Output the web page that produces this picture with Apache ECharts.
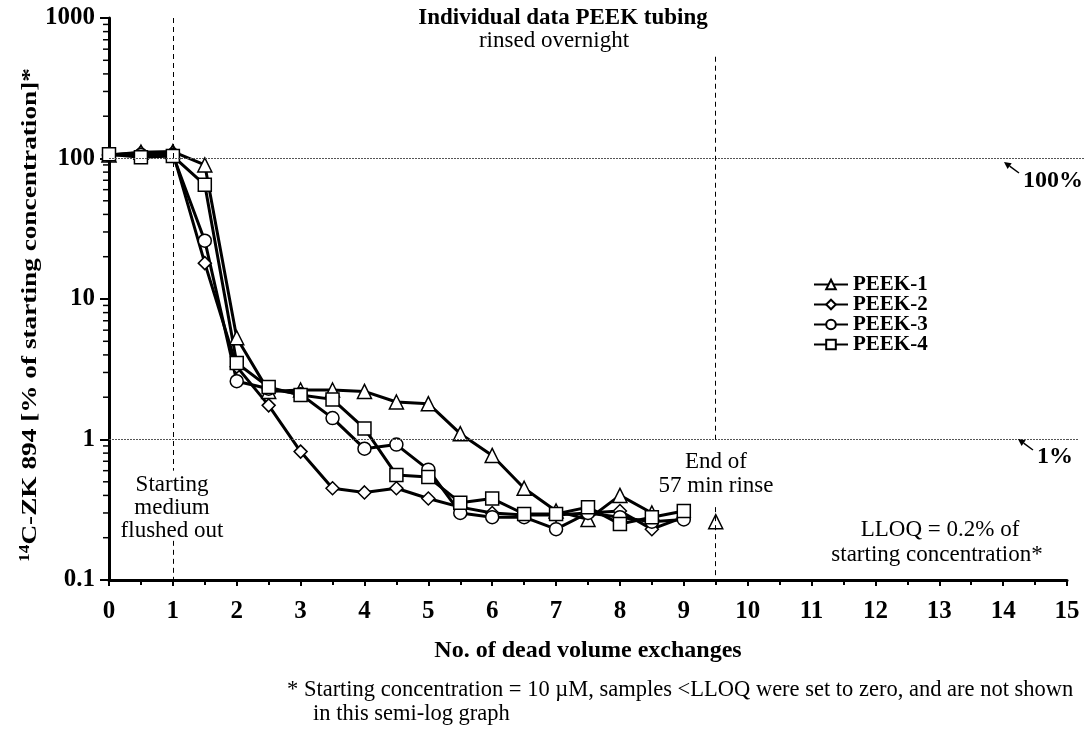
<!DOCTYPE html>
<html>
<head>
<meta charset="utf-8">
<script src="https://cdn.jsdelivr.net/npm/echarts@6/dist/echarts.min.js"></script>
<style>html,body{margin:0;padding:0;background:#fff}#c{width:1089px;height:737px}</style>
</head>
<body>
<div id="c"></div>
<script>
// ---- data ----
const xs = [0,0.5,1,1.5,2,2.5,3,3.5,4,4.5,5,5.5,6,6.5,7,7.5,8,8.5,9,9.5];
const peek1 = [106,111,112,90,5.3,2.2,2.25,2.25,2.2,1.85,1.8,1.1,0.77,0.45,0.31,0.27,0.40,0.30,null,0.26];
const peek2 = [106,110,110,18,3.3,1.75,0.82,0.45,0.42,0.45,0.38,0.33,0.30,0.29,0.29,0.30,0.31,0.23,0.28,null];
const peek3 = [106,106,106,26,2.6,2.3,2.1,1.42,0.86,0.92,0.61,0.30,0.28,0.28,0.23,0.30,0.28,0.26,0.27,null];
const peek4 = [107,102,104,65,3.5,2.36,2.07,1.93,1.2,0.56,0.54,0.355,0.38,0.295,0.295,0.33,0.25,0.28,0.31,null];
const seriesNames = ['PEEK-1','PEEK-2','PEEK-3','PEEK-4'];
const seriesSymbols = ['triangle','diamond','circle','rect'];
const xTicks = [0,1,2,3,4,5,6,7,8,9,10,11,12,13,14,15];
const yTicks = [0.1,1,10,100,1000];
const yMinorTicks = [0.2,0.3,0.4,0.5,0.6,0.7,0.8,0.9,2,3,4,5,6,7,8,9,20,30,40,50,60,70,80,90,200,300,400,500,600,700,800,900];
// reference lines: [x1,y1,x2,y2]
const refDotted = [[0,100,15,100],[0,1,15,1]];
const refDotEnds = [1085,1078];
const refDashed = [[1,1000,1,0.6],[1,0.19,1,0.1],[9.5,530,9.5,0.97],[9.5,0.33,9.5,0.1]];

const FONT = '"Liberation Serif","Times New Roman",serif';
const values = [peek1,peek2,peek3,peek4];

const chart = echarts.init(document.getElementById('c'), null, {renderer:'canvas'});

const lineSeries = seriesNames.map((n,i)=>({
  name:n, type:'line', z:3,
  data: xs.map((x,j)=>[x, values[i][j]]),
  symbol: seriesSymbols[i],
  symbolSize: seriesSymbols[i]==='diamond'?13:(seriesSymbols[i]==='triangle'?14:13),
  showSymbol:true,
  connectNulls:false,
  lineStyle:{color:'#000',width:3},
  itemStyle:{color:'#fff',borderColor:'#000',borderWidth:1.5},
  emphasis:{disabled:true},
  animation:false
}));

const refSeries = {
  name:'ref', type:'line', data:[], z:1, silent:true, animation:false,
  markLine:{
    silent:true, symbol:['none','none'], label:{show:false}, animation:false,
    data: [
      ...refDotted.map(r=>[{coord:[r[0],r[1]],lineStyle:{type:[2,1],color:'#555',width:1}},{coord:[r[2],r[3]]}]),
      ...refDashed.map(r=>[{coord:[r[0],r[1]],lineStyle:{type:[5,4],color:'#000',width:1}},{coord:[r[2],r[3]]}])
    ]
  }
};

const minorSeries = {
  name:'minor', type:'custom', z:4, silent:true, animation:false,
  data: yMinorTicks.map(v=>[0,v]),
  renderItem:(params,api)=>{
    const p = api.coord([0, api.value(1)]);
    return {type:'line', shape:{x1:p[0]-6,y1:p[1],x2:p[0],y2:p[1]}, style:{stroke:'#000',lineWidth:1.5}};
  }
};

function txt(text,x,y,opt,extra){
  return Object.assign({type:'text', x, y, z:100, style:Object.assign({text, font:'23px '+FONT, fill:'#000', align:'center', verticalAlign:'middle'}, opt||{})}, extra||{});
}
function arrow(x1,y1,x2,y2){
  const ang = Math.atan2(y1-y2,x1-x2), L=7, W=3.5;
  const bx = x2+Math.cos(ang)*L, by = y2+Math.sin(ang)*L;
  const px = -Math.sin(ang)*W, py = Math.cos(ang)*W;
  return [
    {type:'line', z:100, shape:{x1,y1,x2:bx,y2:by}, style:{stroke:'#000',lineWidth:1.5}},
    {type:'polygon', z:100, shape:{points:[[x2,y2],[bx+px,by+py],[bx-px,by-py]]}, style:{fill:'#000'}}
  ];
}

const graphics = [
  txt('Individual data PEEK tubing',563,18,{font:'bold 23px '+FONT}),
  txt('rinsed overnight',554,41),
  txt('Starting',172,485),
  txt('medium',172,508),
  txt('flushed out',172,531),
  txt('End of',716,462),
  txt('57 min rinse',716,486),
  txt('LLOQ = 0.2% of',940,530),
  txt('starting concentration*',937,555),
  txt('100%',1023,181,{font:'bold 24px '+FONT,align:'left'}),
  txt('1%',1037,457,{font:'bold 24px '+FONT,align:'left'}),
  ...arrow(1019,173,1004,162),
  ...arrow(1033,450,1018,439),
  txt('* Starting concentration = 10 \u00b5M, samples <LLOQ were set to zero, and are not shown',287,690,{font:'22.5px '+FONT,align:'left'}),
  txt('in this semi-log graph',313,714,{font:'22.5px '+FONT,align:'left'}),
  txt('{s|14}{m|C-ZK 894 [% of starting concentration]*}',30,315,{
    rich:{
      s:{font:'bold 14px '+FONT,fill:'#000',verticalAlign:'top',padding:[0,0,10,0]},
      m:{font:'bold 22px '+FONT,fill:'#000'}
    }
  },{rotation:Math.PI/2, scaleX:1.24, scaleY:1})
];

const option = {
  animation:false,
  backgroundColor:'#fff',
  grid:{left:109,right:22,top:18,bottom:157,containLabel:false},
  legend:{
    data:seriesNames, orient:'vertical', left:808, top:269,
    itemWidth:34, itemHeight:12, itemGap:-1,
    textStyle:{fontFamily:FONT,fontWeight:'bold',fontSize:21,color:'#000'},
    selectedMode:false
  },
  xAxis:{
    type:'value', min:0, max:15, interval:1,
    name:'No. of dead volume exchanges', nameLocation:'middle', nameGap:59,
    nameTextStyle:{fontFamily:FONT,fontWeight:'bold',fontSize:24,color:'#000'},
    axisLine:{show:true,onZero:false,lineStyle:{color:'#000',width:3}},
    axisTick:{show:true,length:6,lineStyle:{color:'#000',width:2}},
    minorTick:{show:true,splitNumber:2,length:5,lineStyle:{color:'#000',width:2}},
    axisLabel:{fontFamily:FONT,fontWeight:'bold',fontSize:25,color:'#000',margin:19,
      formatter:v=>xTicks.includes(v)?String(v):''},
    splitLine:{show:false}
  },
  yAxis:{
    type:'log', logBase:10, min:0.1, max:1000,
    axisLine:{show:true,onZero:false,lineStyle:{color:'#000',width:3}},
    axisTick:{show:true,length:9,lineStyle:{color:'#000',width:2}},
    axisLabel:{fontFamily:FONT,fontWeight:'bold',fontSize:25,color:'#000',margin:14,
      formatter:v=>{const t=yTicks.find(k=>Math.abs(k-v)/k<1e-6);return t===undefined?'':String(t);}},
    splitLine:{show:false}
  },
  series:[refSeries, ...lineSeries, minorSeries],
  graphic:graphics
};
chart.setOption(option);

// extend the dotted reference lines a little past the axis end, as in the original
const ext = refDotted.map((r,i)=>{
  const p = chart.convertToPixel({gridIndex:0},[r[2],r[3]]);
  return {type:'line', z:1, shape:{x1:p[0],y1:p[1],x2:refDotEnds[i],y2:p[1]}, style:{stroke:'#555',lineWidth:1,lineDash:[2,1]}};
});
chart.setOption({graphic:graphics.concat(ext)});
</script>
</body>
</html>
